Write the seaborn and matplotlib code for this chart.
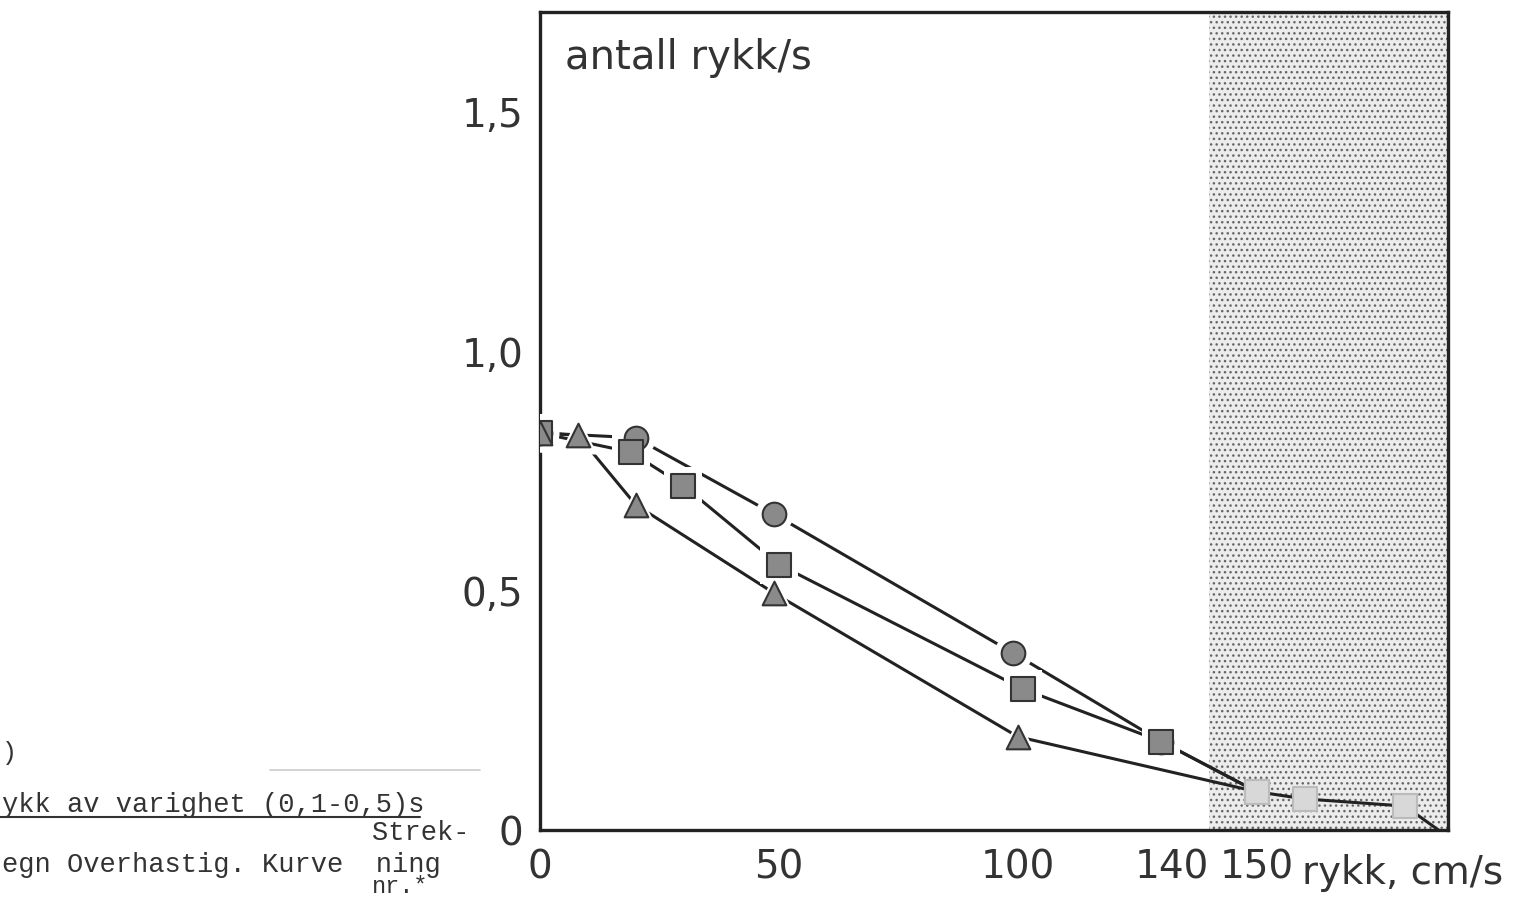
import matplotlib
matplotlib.use("Agg")
import matplotlib.pyplot as plt
import seaborn as sns
import pandas as pd

# ---- data ----
circle_x = [0, 20, 49, 99, 130, 150]
circle_y = [0.83, 0.82, 0.66, 0.37, 0.185, 0.08]
square_x = [0, 19, 30, 50, 101, 130, 150, 160, 181, 188]
square_y = [0.83, 0.79, 0.72, 0.555, 0.295, 0.185, 0.08, 0.065, 0.05, 0.0]
triangle_x = [0, 8, 20, 49, 100, 150]
triangle_y = [0.83, 0.825, 0.68, 0.495, 0.195, 0.08]

xticks = [0, 50, 100, 140, 150]
xtick_labels = ["0", "50", "100", "140", "150"]
yticks = [0, 0.5, 1.0, 1.5]
ytick_labels = ["0", "0,5", "1,0", "1,5"]
shade_start = 140

sns.set_theme(style="white")
plt.rcParams["font.family"] = ["DejaVu Sans"]

fig = plt.figure(figsize=(15.3, 8.97), dpi=100)
ax = fig.add_axes([540/1530, 1-830/897, (1448-540)/1530, (830-12)/897])
ax.set_xlim(0, 190)
ax.set_ylim(0, 1.71)

# shaded region
ax.axvspan(shade_start, 190, facecolor="#ececec", edgecolor="#666666",
           hatch="...", linewidth=0, zorder=0)

series = [
    ("circle", circle_x, circle_y, "o"),
    ("square", square_x, square_y, "s"),
    ("triangle", triangle_x, triangle_y, "^"),
]

for name, xs, ys, mk in series:
    df = pd.DataFrame({"x": xs, "y": ys})
    sns.lineplot(data=df, x="x", y="y", ax=ax, sort=False, color="#222222",
                 linewidth=2.2, zorder=2)

for name, xs, ys, mk in series:
    df = pd.DataFrame({"x": xs, "y": ys})
    inside = df[df["x"] < shade_start]
    outside = df[(df["x"] >= shade_start) & (df["y"] > 0)]
    # white halo producing gaps in the lines around markers
    sns.scatterplot(data=inside, x="x", y="y", ax=ax, marker=mk, s=750,
                    color="white", edgecolor="white", linewidth=0, zorder=3)
    sns.scatterplot(data=inside, x="x", y="y", ax=ax, marker=mk, s=290,
                    color="#8a8a8a", edgecolor="#333333", linewidth=1.5, zorder=4)
    sns.scatterplot(data=outside, x="x", y="y", ax=ax, marker="s", s=290,
                    color="#d8d8d8", edgecolor="#bbbbbb", linewidth=1.5, zorder=4)

ax.set_xlabel("")
ax.set_ylabel("")
for sp in ax.spines.values():
    sp.set_linewidth(2.4)
    sp.set_color("#222222")

ax.set_xticks(xticks)
ax.set_xticklabels(xtick_labels)
ax.set_yticks(yticks)
ax.set_yticklabels(ytick_labels)
ax.tick_params(axis="both", direction="in", length=9, width=2, color="#222222",
               labelsize=28, labelcolor="#333333")
ax.tick_params(axis="x", pad=13)
ax.tick_params(axis="y", pad=12)

# crowded "140" label sits left of its tick
for lbl in ax.get_xticklabels():
    if lbl.get_text() == "140":
        lbl.set_horizontalalignment("right")

ax.text(0.028, 0.93, "antall rykk/s", transform=ax.transAxes, fontsize=29,
        color="#333333", ha="left", va="baseline")
fig.text(1302/1530, 1-884/897, "rykk, cm/s", fontsize=28, color="#333333",
         ha="left", va="baseline")

# cropped typewriter text on the left
mono = "Liberation Mono"
fig.text(2/1530, 1-760/897, ")", family=mono, fontsize=18, color="#333333")
fig.text(2/1530, 1-812/897, "ykk av varighet (0,1-0,5)s", family=mono,
         fontsize=19.5, color="#333333")
fig.add_artist(plt.Line2D([0, 420/1530], [1-817/897, 1-817/897],
                          color="#333333", linewidth=1.5))
fig.add_artist(plt.Line2D([270/1530, 480/1530], [1-770/897, 1-770/897],
                          color="#cccccc", linewidth=1.2))
fig.text(372/1530, 1-840/897, "Strek-", family=mono, fontsize=19.5, color="#333333")
fig.text(2/1530, 1-872/897, "egn Overhastig. Kurve  ning", family=mono,
         fontsize=19.5, color="#333333")
fig.text(372/1530, 1-893/897, "nr.*", family=mono, fontsize=17, color="#333333")

fig.savefig("out.png", dpi=100, facecolor="white")
